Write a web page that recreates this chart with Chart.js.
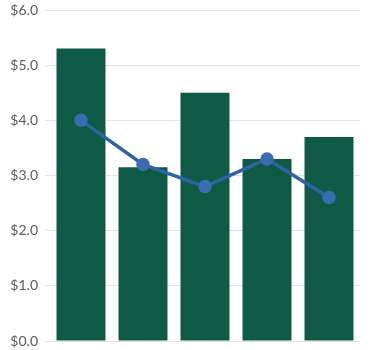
<!DOCTYPE html>
<html>
<head>
<meta charset="utf-8">
<script src="https://cdn.jsdelivr.net/npm/chart.js@4/dist/chart.umd.min.js"></script>
<style>
html,body{margin:0;padding:0;background:#fff;}
#wrap{width:388px;height:350px;position:relative;}
</style>
</head>
<body>
<div id="wrap"><canvas id="c" width="388" height="350"></canvas></div>
<script>
const categories = ["A", "B", "C", "D", "E"];
const barValues = [5.3, 3.15, 4.5, 3.3, 3.7];
const lineValues = [4.0, 3.2, 2.8, 3.3, 2.6];
const yTicks = [0, 1, 2, 3, 4, 5, 6];

new Chart(document.getElementById('c'), {
  data: {
    labels: categories,
    datasets: [
      {
        type: 'line',
        data: lineValues,
        borderColor: '#2f63a5',
        backgroundColor: '#3a6cb0',
        pointBackgroundColor: '#3a6cb0',
        pointBorderColor: '#3a6cb0',
        borderWidth: 3.5,
        pointRadius: 5,
        tension: 0,
        order: 0
      },
      {
        type: 'bar',
        data: barValues,
        backgroundColor: '#0e5a44',
        categoryPercentage: 1.0,
        barPercentage: 0.79,
        order: 1
      }
    ]
  },
  options: {
    responsive: false,
    animation: false,
    layout: { padding: { top: 10, right: 28, bottom: 9, left: 0 } },
    plugins: { legend: { display: false }, tooltip: { enabled: false } },
    scales: {
      x: {
        display: false
      },
      y: {
        min: 0,
        max: 6,
        afterFit: (s) => { s.width = 50; s.paddingTop = 0; s.paddingBottom = 0; },
        afterBuildTicks: (s) => { s.ticks = yTicks.map(v => ({ value: v })); },
        border: { display: false },
        grid: { color: '#e4e4e4', lineWidth: 1, tickLength: 5, tickColor: '#e4e4e4' },
        ticks: {
          padding: 7,
          color: '#5a5a5a',
          font: { family: 'Lato', size: 14 },
          callback: (v) => '$' + Number(v).toFixed(1)
        }
      }
    }
  }
});
</script>
</body>
</html>
